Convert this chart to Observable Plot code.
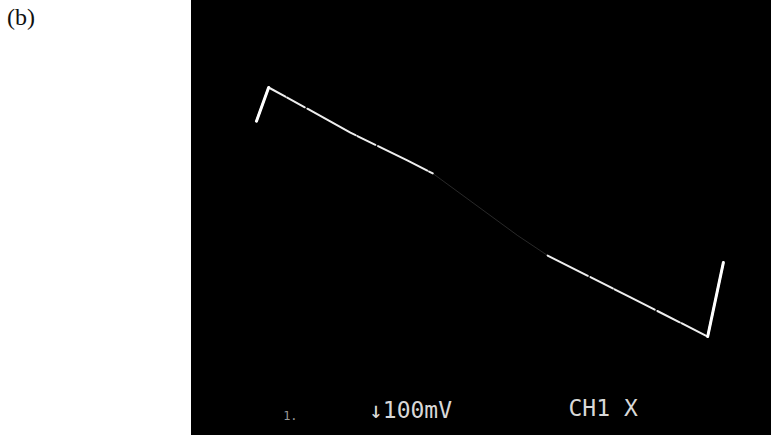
<!DOCTYPE html>
<html>
<head>
<meta charset="utf-8">
<script src="https://cdn.jsdelivr.net/npm/d3@7"></script>
<script src="https://cdn.jsdelivr.net/npm/@observablehq/plot@0.6"></script>
<style>
  html, body { margin: 0; padding: 0; background: #fff; }
  #wrap { position: relative; width: 771px; height: 435px; }
  #panel { position: absolute; left: 7px; top: 5px; line-height: 1; font-family: "Liberation Serif", "DejaVu Serif", serif; font-size: 24px; color: #111; }
  svg { display: block; }
</style>
</head>
<body>
<div id="wrap">
  <div id="panel">(b)</div>
  <div id="chart"></div>
</div>
<script>
// Oscilloscope trace: time (divisions) and signal (mV, 100 mV/div)
const time   = [1.12, 1.33, 1.93, 2.74, 3.72, 4.16, 5.62, 6.14, 7.57, 8.90, 9.17];
const signal = [178, 240, 205, 157, 106, 82, -32, -69, -146, -218, -82];

// Scope readout labels
const readoutText = ["1.", "↓100mV", "CH1 X"];
const readoutTime = [1.58, 3.06, 6.50];
const readoutLevel = [-372, -367, -364];

const trace = time.map((t, i) => ({t, v: signal[i]}));
const readout = readoutText.map((s, i) => ({s, t: readoutTime[i], v: readoutLevel[i]}));

const plot = Plot.plot({
  width: 771,
  height: 435,
  marginLeft: 191,
  marginRight: 0,
  marginTop: 0,
  marginBottom: 0,
  x: {domain: [0, 10], axis: null},
  y: {domain: [-400, 400], axis: null},
  marks: [
    Plot.frame({fill: "black", stroke: "black"}),
    // faint full trace
    Plot.line(trace, {x: "t", y: "v", stroke: "#888", strokeWidth: 1, strokeOpacity: 0.3}),
    // bright sections
    Plot.line(trace.slice(0, 6), {x: "t", y: "v", stroke: "#eeeeee", strokeWidth: 2, strokeDasharray: "55,2,20,3"}),
    Plot.line(trace.slice(7), {x: "t", y: "v", stroke: "#eeeeee", strokeWidth: 2, strokeDasharray: "45,3,25,2"}),
    // brighter retrace edges
    Plot.line(trace.slice(0, 2), {x: "t", y: "v", stroke: "#fff", strokeWidth: 3}),
    Plot.line(trace.slice(9), {x: "t", y: "v", stroke: "#fff", strokeWidth: 3}),
    Plot.text(readout.slice(1), {x: "t", y: "v", text: "s", textAnchor: "start", lineAnchor: "bottom",
      fill: "#d8d8d8", fontSize: 23, fontFamily: "DejaVu Sans Mono, monospace"}),
    Plot.text(readout.slice(0, 1), {x: "t", y: "v", text: "s", textAnchor: "start", lineAnchor: "bottom",
      fill: "#999999", fontSize: 12, fontFamily: "DejaVu Sans Mono, monospace"})
  ]
});
document.getElementById("chart").appendChild(plot);
</script>
</body>
</html>
